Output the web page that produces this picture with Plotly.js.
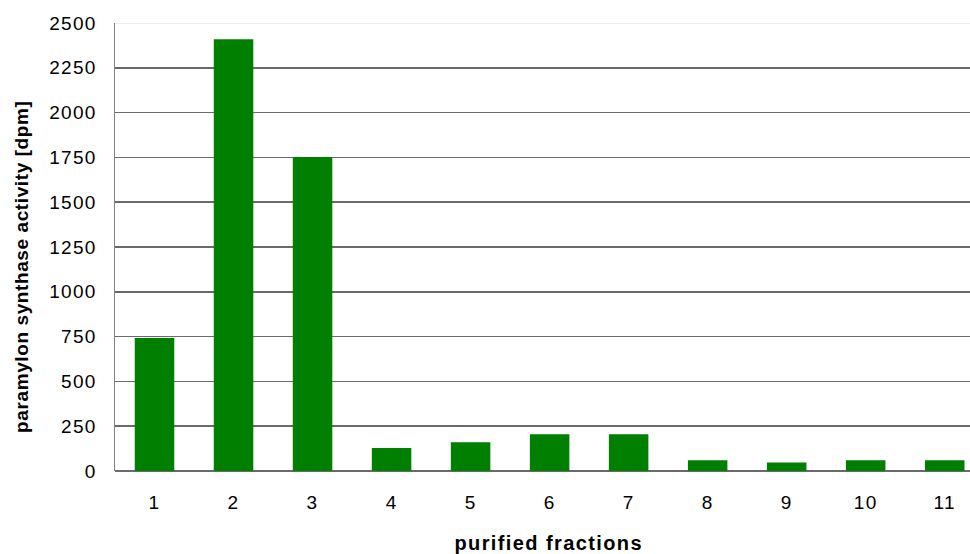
<!DOCTYPE html>
<html><head><meta charset="utf-8">
<script src="https://cdn.plot.ly/plotly-3.0.1.min.js"></script>
<style>
html,body{margin:0;padding:0;background:#fff}
.xtick text, .ytick text { letter-spacing: 1.3px; }
g.annotation[data-index="0"] text { letter-spacing: 1.4px; }
g.annotation[data-index="1"] text { letter-spacing: 0.6px; }
</style>
</head><body><div id="chart" style="width:970px;height:554px"></div>
<script>
const fractions = ["1","2","3","4","5","6","7","8","9","10","11"];
const activity = [742, 2410, 1752, 128, 160, 205, 205, 60, 48, 60, 60];
const yTicks = [0,250,500,750,1000,1250,1500,1750,2000,2250,2500];
const xTitle = 'purified fractions';
const yTitle = 'paramylon synthase activity [dpm]';

const trace = {
  type: 'bar', x: fractions, y: activity,
  marker: {color: '#007f00', line: {width: 0}},
  hoverinfo: 'x+y'
};
const layout = {
  width: 970, height: 554,
  margin: {l: 115, r: 0, t: 23, b: 83},
  paper_bgcolor: '#fff', plot_bgcolor: '#fff',
  bargap: 0.5,
  showlegend: false,
  font: {family: 'Liberation Sans, Arial, sans-serif', color: '#000', size: 19},
  xaxis: {
    type: 'category', range: [-0.5, 10.32],
    showgrid: false, showline: false, zeroline: false,
    ticks: '', tickfont: {size: 19}, ticklabelstandoff: 18
  },
  yaxis: {
    range: [0, 2500], tickvals: yTicks, ticktext: yTicks.map(String),
    showgrid: true, gridcolor: '#6a6a6a', gridwidth: 1.5,
    showline: true, linecolor: '#808080', linewidth: 1.5,
    zeroline: true, zerolinecolor: '#6a6a6a', zerolinewidth: 1.5,
    ticks: '', tickfont: {size: 19}, ticklabelstandoff: 13
  },
  annotations: [
    {text: '<b>' + xTitle + '</b>', xref: 'paper', yref: 'paper', x: 0.5, y: 0,
     xanchor: 'center', yanchor: 'middle', xshift: 6, yshift: -72, showarrow: false,
     font: {size: 20}},
    {text: '<b>' + yTitle + '</b>', xref: 'paper', yref: 'paper', x: 0, y: 0.5,
     xanchor: 'center', yanchor: 'middle', xshift: -94, yshift: -20, textangle: -90,
     showarrow: false, font: {size: 19}}
  ],
  shapes: [{type: 'line', xref: 'paper', yref: 'y', x0: 0, x1: 1, y0: 2500, y1: 2500,
            line: {color: '#e6e6e6', width: 1.5}, layer: 'above'}]
};
Plotly.newPlot('chart', [trace], layout, {displayModeBar: false, staticPlot: true});
</script></body></html>
